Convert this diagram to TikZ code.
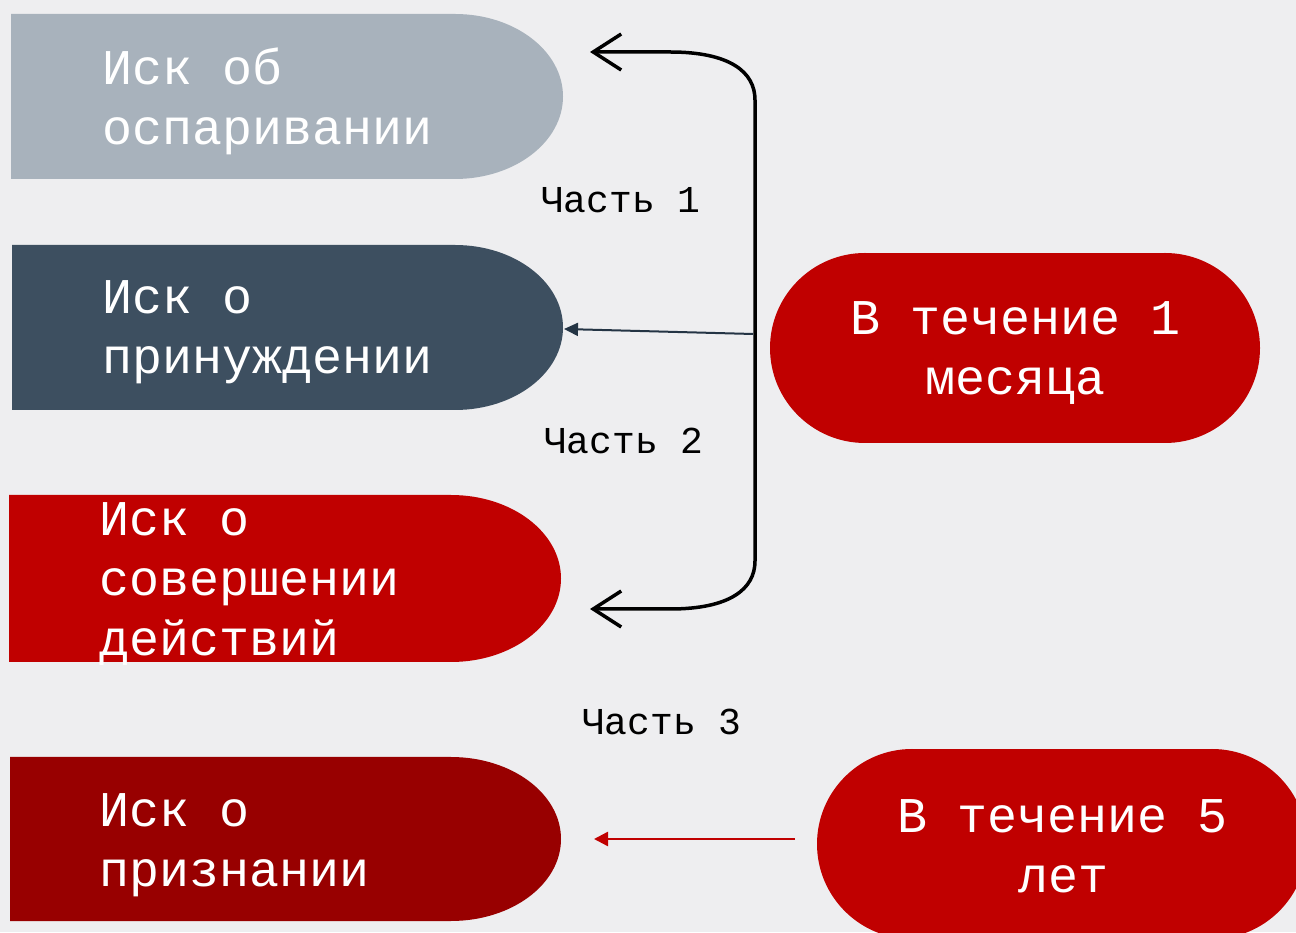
\documentclass[tikz,border=0pt]{standalone}
\usepackage{fontspec}
\setmainfont{Liberation Mono}
\usetikzlibrary{arrows.meta}
\definecolor{bg}{HTML}{EEEEF0}
\definecolor{cgray}{HTML}{A8B2BC}
\definecolor{cdark}{HTML}{3D4F60}
\definecolor{cred}{HTML}{C00000}
\definecolor{cdred}{HTML}{980000}
\definecolor{carrow}{HTML}{243444}
\tikzset{
  bigtext/.style={text=white, inner sep=0pt, font=\fontsize{50}{60}\selectfont},
  lefttext/.style={bigtext, align=left, anchor=west},
  pilltext/.style={bigtext, align=center},
  partlabel/.style={text=black, inner sep=0pt, font=\fontsize{38}{44}\selectfont},
}
\begin{document}
\begin{tikzpicture}[x=1pt,y=1pt]
\fill[bg] (0,0) rectangle (1296,932);
\useasboundingbox (0,0) rectangle (1296,932);
% left shapes
\fill[cgray] (11,918) -- (455,918) arc[start angle=90,end angle=-90,x radius=108,y radius=82.5] -- (11,753) -- cycle;
\fill[cdark] (12,687) -- (455,687) arc[start angle=90,end angle=-90,x radius=108,y radius=82.5] -- (12,522) -- cycle;
\fill[cred] (9,437) -- (451,437) arc[start angle=90,end angle=-90,x radius=110,y radius=83.5] -- (9,270) -- cycle;
\fill[cdred] (10,175) -- (451,175) arc[start angle=90,end angle=-90,x radius=110,y radius=82] -- (10,11) -- cycle;
% pills
\fill[cred] (770,489) rectangle (1260,679);
\fill[bg] (770,489) rectangle (865,679);
\fill[bg] (1165,489) rectangle (1260,679);
\fill[cred] (865,584) circle[radius=95];
\fill[cred] (1165,584) circle[radius=95];
\fill[cred] (912,-7) rectangle (1212,183);
\fill[cred] (912,88) circle[radius=95];
\fill[cred] (1212,88) circle[radius=95];
% texts
\node[lefttext] (t1) at (102,831) {Иск об\\оспаривании};
\node[lefttext] (t2) at (102,600) {Иск о\\принуждении};
\node[lefttext] (t3) at (99,347.5) {Иск о\\совершении\\действий};
\node[lefttext] (t4) at (99,87) {Иск о\\признании};
\node[pilltext] (p1) at (1016,579) {В течение 1\\месяца};
\node[pilltext] (p2) at (1063,86) {В течение 5\\лет};
\node[partlabel] (l1) at (621,732) {Часть 1};
\node[partlabel] (l2) at (624,491) {Часть 2};
\node[partlabel] (l3) at (662,210) {Часть 3};
% connectors
\coordinate (top) at (590,880);
\coordinate (bot) at (590,323);
\coordinate (mstart) at (753,598);
\coordinate (mend) at (564,603);
\coordinate (rstart) at (795,93);
\coordinate (rend) at (594,93);
\draw[line width=3.5pt, {Straight Barb[length=28pt,width=36pt,line width=3.5pt]}-{Straight Barb[length=28pt,width=36pt,line width=3.5pt]}]
  (top) -- (670,880) .. controls (730,880) and (755,860) .. (755,832) -- (755,371) .. controls (755,343) and (730,323) .. (670,323) -- (bot);
\draw[carrow, line width=2pt, -{Triangle[length=14pt,width=13pt]}] (mstart) -- (mend);
\draw[cred, line width=2.5pt, -{Triangle[length=14pt,width=14pt]}] (rstart) -- (rend);
\end{tikzpicture}
\end{document}
